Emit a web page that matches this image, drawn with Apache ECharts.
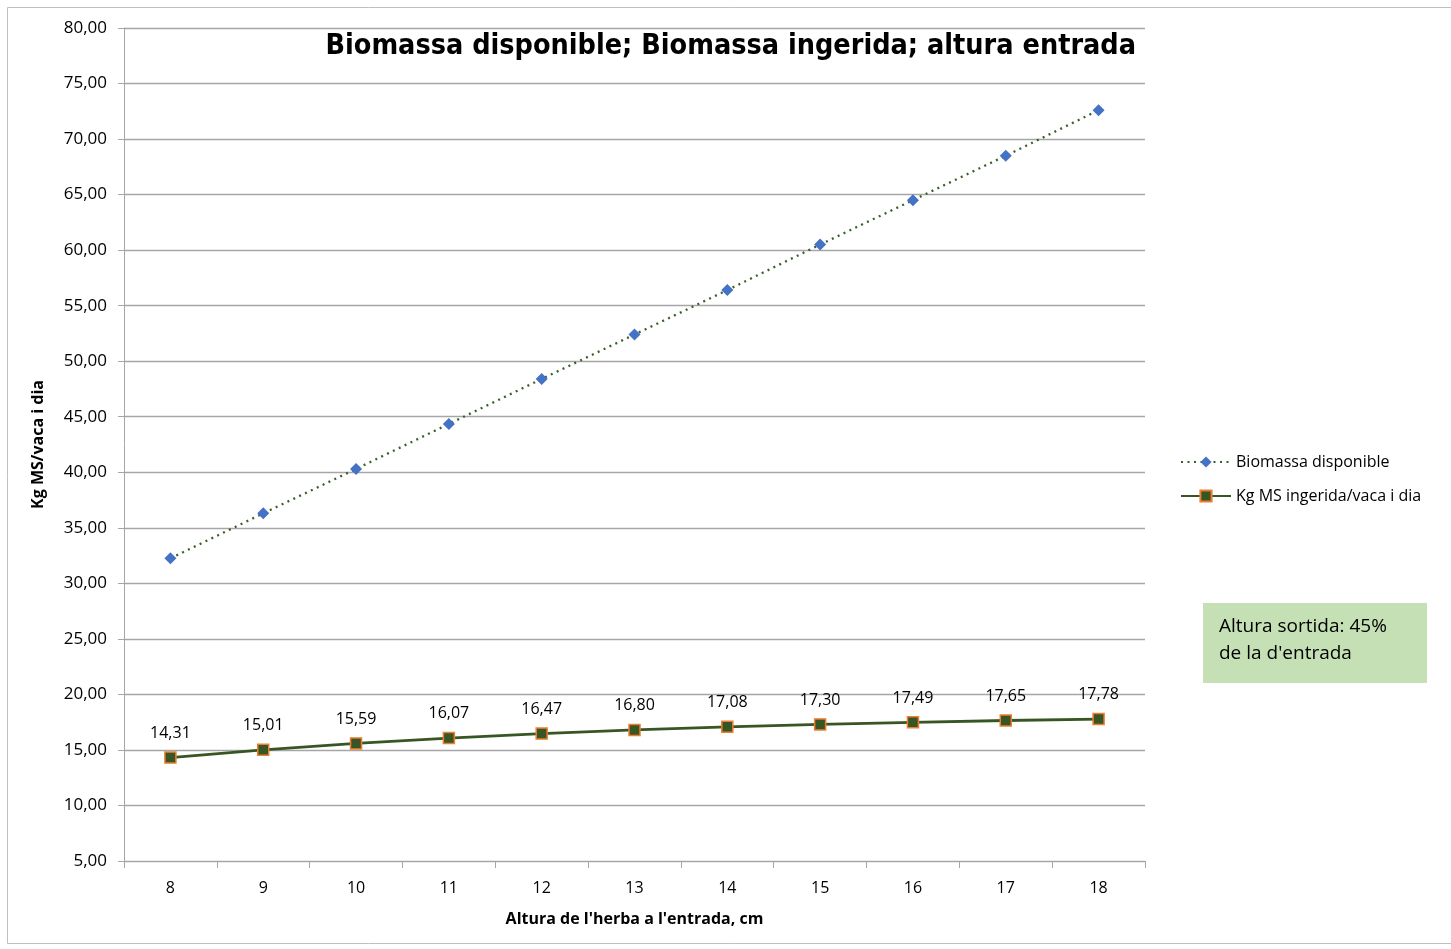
<!DOCTYPE html>
<html><head><meta charset="utf-8">
<script src="https://cdn.jsdelivr.net/npm/echarts@6/dist/echarts.min.js"></script>
<style>html,body{margin:0;padding:0;background:#fff}#c{width:1451px;height:949px}</style>
</head><body><div id="c"></div>
<script>
const categories = ['8','9','10','11','12','13','14','15','16','17','18'];
const biomassaDisponible = [32.25, 36.3, 40.3, 44.35, 48.4, 52.4, 56.4, 60.5, 64.5, 68.5, 72.6];
const biomassaIngerida = [14.31, 15.01, 15.59, 16.07, 16.47, 16.80, 17.08, 17.30, 17.49, 17.65, 17.78];
const seriesNames = ['Biomassa disponible', 'Kg MS ingerida/vaca i dia'];
const titleText = 'Biomassa disponible; Biomassa ingerida; altura entrada';
const yName = 'Kg MS/vaca i dia';
const xName = "Altura de l'herba a l'entrada, cm";
const noteLines = ['Altura sortida: 45%', "de la d'entrada"];

const FONT = "'Open Sans', 'Noto Sans', sans-serif";
const chart = echarts.init(document.getElementById('c'));
const fmt = v => v.toFixed(2).replace('.', ',');
chart.setOption({
  animation: false,
  textStyle: { fontFamily: FONT },
  title: {
    text: titleText, right: 310, top: 27,
    textStyle: { fontSize: 28.5, fontWeight: 'bold', color: '#000', fontFamily: "'Liberation Sans Narrow', 'DejaVu Sans Condensed', sans-serif" }
  },
  grid: { left: 124, right: 306, top: 28, bottom: 88, containLabel: false },
  legend: {
    orient: 'vertical', left: 1175, top: 449, itemGap: 18, itemWidth: 50, itemHeight: 14,
    textStyle: { fontSize: 16, color: '#000', fontFamily: FONT },
    data: seriesNames
  },
  xAxis: {
    type: 'category', data: categories, boundaryGap: true,
    name: xName, nameLocation: 'middle', nameGap: 50,
    nameTextStyle: { fontSize: 16, fontWeight: 'bold', color: '#000' },
    axisLine: { lineStyle: { color: '#a6a6a6', width: 1 } },
    axisTick: { show: true, length: 7, lineStyle: { color: '#a6a6a6' }, alignWithLabel: false },
    axisLabel: { fontSize: 16, color: '#000', margin: 19 }
  },
  yAxis: {
    type: 'value', min: 5, max: 80, interval: 5,
    name: yName, nameLocation: 'middle', nameGap: 78, nameRotate: 90,
    nameTextStyle: { fontSize: 16, fontWeight: 'bold', color: '#000' },
    axisLine: { show: true, lineStyle: { color: '#a6a6a6' } },
    axisTick: { show: true, length: 6, lineStyle: { color: '#a6a6a6' } },
    axisLabel: { fontSize: 17, color: '#000', margin: 17, formatter: fmt },
    splitLine: { lineStyle: { color: '#a6a6a6', width: 1.3 } }
  },
  series: [
    {
      name: seriesNames[0], type: 'line', data: biomassaDisponible,
      symbol: 'diamond', symbolSize: 12,
      itemStyle: { color: '#4472c4' },
      lineStyle: { color: '#3a5f2a', type: [2, 4.5], width: 2.3 }
    },
    {
      name: seriesNames[1], type: 'line', data: biomassaIngerida,
      symbol: 'rect', symbolSize: 11,
      itemStyle: { color: '#375623', borderColor: '#ed7d31', borderWidth: 1.5 },
      lineStyle: { color: '#375623', width: 2.8 },
      label: { show: true, position: 'top', distance: 10, fontSize: 16, color: '#000', formatter: p => fmt(p.value) }
    }
  ],
  graphic: [
    { type: 'rect', shape: { x: 7.5, y: 7.5, width: 1460, height: 936 }, style: { fill: 'none', stroke: '#bfbfbf', lineWidth: 1 }, silent: true },
    { type: 'rect', shape: { x: 1203, y: 603, width: 224, height: 80 }, style: { fill: '#c5e0b4' } },
    { type: 'text', left: 1219, top: 613, style: { text: noteLines.join('\n'), fontSize: 19, lineHeight: 27, fill: '#000', fontFamily: FONT } }
  ]
});
</script></body></html>
